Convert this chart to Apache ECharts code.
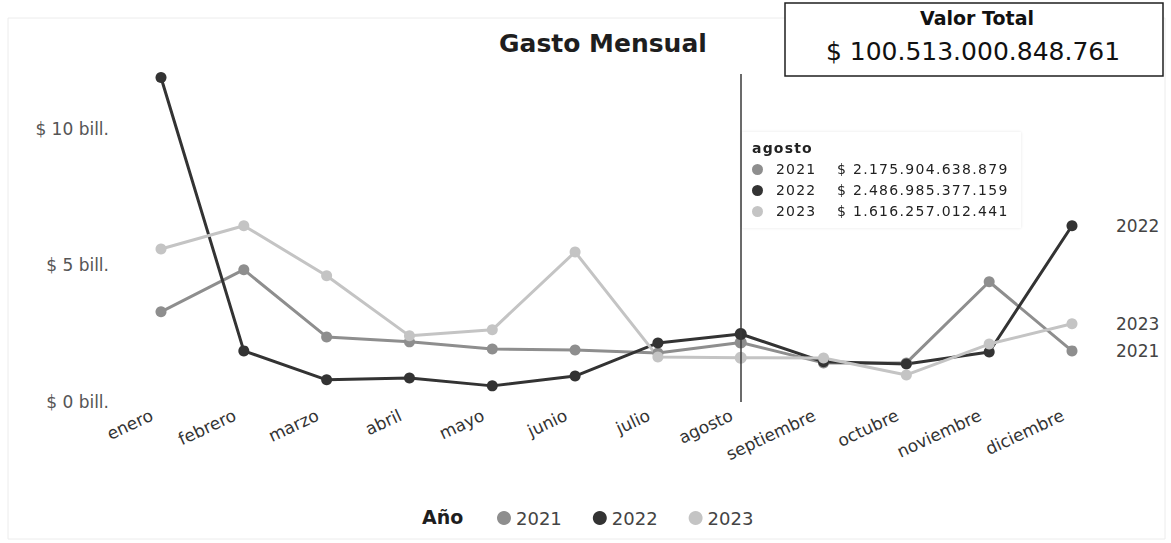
<!DOCTYPE html>
<html>
<head>
<meta charset="utf-8">
<title>Gasto Mensual</title>
<script src="https://cdn.jsdelivr.net/npm/echarts@6/dist/echarts.min.js"></script>
<style>
  html, body { margin: 0; padding: 0; background: #ffffff; }
  #chart { width: 1171px; height: 543px; }
</style>
</head>
<body>
<div id="chart"></div>
<script>
// Monthly spending per year, in billions of pesos (bill.)
const months = ['enero', 'febrero', 'marzo', 'abril', 'mayo', 'junio',
                'julio', 'agosto', 'septiembre', 'octubre', 'noviembre', 'diciembre'];
const years = ['2021', '2022', '2023'];
const gasto2021 = [3.30, 4.84, 2.38, 2.20, 1.94, 1.90, 1.79, 2.175904638879, 1.43, 1.43, 4.40, 1.87];
const gasto2022 = [11.87, 1.87, 0.81, 0.88, 0.59, 0.95, 2.16, 2.486985377159, 1.47, 1.39, 1.83, 6.45];
const gasto2023 = [5.60, 6.45, 4.62, 2.42, 2.64, 5.49, 1.65, 1.616257012441, 1.61, 0.99, 2.12, 2.86];
const yTickValues = [0, 5, 10];
const totalValue = 100513000848761;
const focusMonthIndex = 7; // agosto

const seriesColors = ['#8e8e8e', '#333333', '#c4c4c4'];
const font = 'DejaVu Sans';

function groupThousands(n) {
  return String(n).replace(/\B(?=(\d{3})+(?!\d))/g, '.');
}
function pesosFromBill(v) {
  return '$ ' + groupThousands(Math.round(v * 1e12));
}

const chart = echarts.init(document.getElementById('chart'), null, { renderer: 'svg' });

const seriesData = [gasto2021, gasto2022, gasto2023];

const option = {
  animation: false,
  backgroundColor: '#ffffff',
  textStyle: { fontFamily: font },
  color: seriesColors,
  title: {
    text: 'Gasto Mensual',
    left: 494,
    top: 26,
    textStyle: { fontFamily: font, fontSize: 25, fontWeight: 'bold', color: '#1e1e1e' }
  },
  grid: { left: 161, right: 99, top: 74, bottom: 141, containLabel: false },
  legend: {
    data: years,
    left: 492,
    top: 504,
    icon: 'circle',
    itemWidth: 14,
    itemHeight: 14,
    itemGap: 31,
    selectedMode: false,
    textStyle: { fontFamily: font, fontSize: 18, color: '#444444' }
  },
  tooltip: {
    trigger: 'axis',
    triggerOn: 'none',
    alwaysShowContent: true,
    showDelay: 0,
    transitionDuration: 0,
    position: [742, 132],
    backgroundColor: '#ffffff',
    borderWidth: 0,
    padding: [6, 12, 6, 10],
    extraCssText: 'box-shadow:0 0 3px rgba(0,0,0,0.10);border-radius:0;',
    axisPointer: {
      type: 'line',
      lineStyle: { color: '#3a3a3a', width: 1.5, type: 'solid' },
      label: { show: false }
    },
    formatter: function (params) {
      let html = '<div style="font-family:' + font + ';font-size:14px;line-height:21px;color:#222;">';
      html += '<div style="font-weight:bold;letter-spacing:1.2px;">' + params[0].axisValue + '</div>';
      params.forEach(function (p) {
        html += '<div style="display:flex;align-items:center;white-space:nowrap;">' +
          '<span style="display:inline-block;width:11px;height:11px;border-radius:50%;background:' + p.color + ';margin-right:13px;"></span>' +
          '<span style="display:inline-block;width:61px;letter-spacing:1.2px;">' + p.seriesName + '</span>' +
          '<span style="letter-spacing:1.3px;">' + pesosFromBill(p.value) + '</span></div>';
      });
      return html + '</div>';
    }
  },
  xAxis: {
    type: 'category',
    data: months,
    boundaryGap: false,
    axisLine: { show: false },
    axisTick: { show: false },
    splitLine: { show: false },
    axisLabel: {
      rotate: 25,
      margin: 8,
      interval: 0,
      padding: [0, 10, 0, 0],
      fontFamily: font,
      fontSize: 17,
      color: '#333333'
    }
  },
  yAxis: {
    type: 'value',
    min: 0,
    max: 12,
    interval: 1,
    axisLine: { show: false },
    axisTick: { show: false },
    splitLine: { show: false },
    axisLabel: {
      margin: 52,
      fontFamily: font,
      fontSize: 17,
      color: '#555555',
      formatter: function (v) {
        return yTickValues.indexOf(v) >= 0 ? '$ ' + v + ' bill.' : '';
      }
    }
  },
  graphic: [
    {
      type: 'rect',
      silent: true,
      shape: { x: 8, y: 18, width: 1157, height: 521 },
      style: { fill: 'none', stroke: '#ececec', lineWidth: 1 },
      z: -10
    },
    {
      type: 'group',
      z: 100,
      children: [
        {
          type: 'rect',
          shape: { x: 785, y: 3, width: 378, height: 73 },
          style: { fill: '#ffffff', stroke: '#1f1f1f', lineWidth: 1.5 }
        },
        {
          type: 'text',
          x: 977, y: 18,
          style: {
            text: 'Valor Total', fontFamily: font, fontSize: 19, fontWeight: 'bold',
            fill: '#111111', align: 'center', verticalAlign: 'middle'
          }
        },
        {
          type: 'text',
          x: 973, y: 51,
          style: {
            text: '$ ' + groupThousands(totalValue), fontFamily: font, fontSize: 25,
            fill: '#111111', align: 'center', verticalAlign: 'middle'
          }
        }
      ]
    },
    {
      type: 'text',
      x: 422, y: 517,
      style: {
        text: 'Año', fontFamily: font, fontSize: 19, fontWeight: 'bold',
        fill: '#1e1e1e', verticalAlign: 'middle'
      }
    }
  ],
  series: years.map(function (year, i) {
    return {
      name: year,
      type: 'line',
      data: seriesData[i],
      symbol: 'circle',
      symbolSize: 11,
      showSymbol: true,
      lineStyle: { width: 3, color: seriesColors[i] },
      itemStyle: { color: seriesColors[i] },
      emphasis: { disabled: true },
      endLabel: {
        show: true,
        formatter: '{a}',
        distance: 44,
        fontFamily: font,
        fontSize: 17,
        color: '#444444'
      }
    };
  })
};

chart.setOption(option);
chart.dispatchAction({ type: 'showTip', seriesIndex: 0, dataIndex: focusMonthIndex });
</script>
</body>
</html>
